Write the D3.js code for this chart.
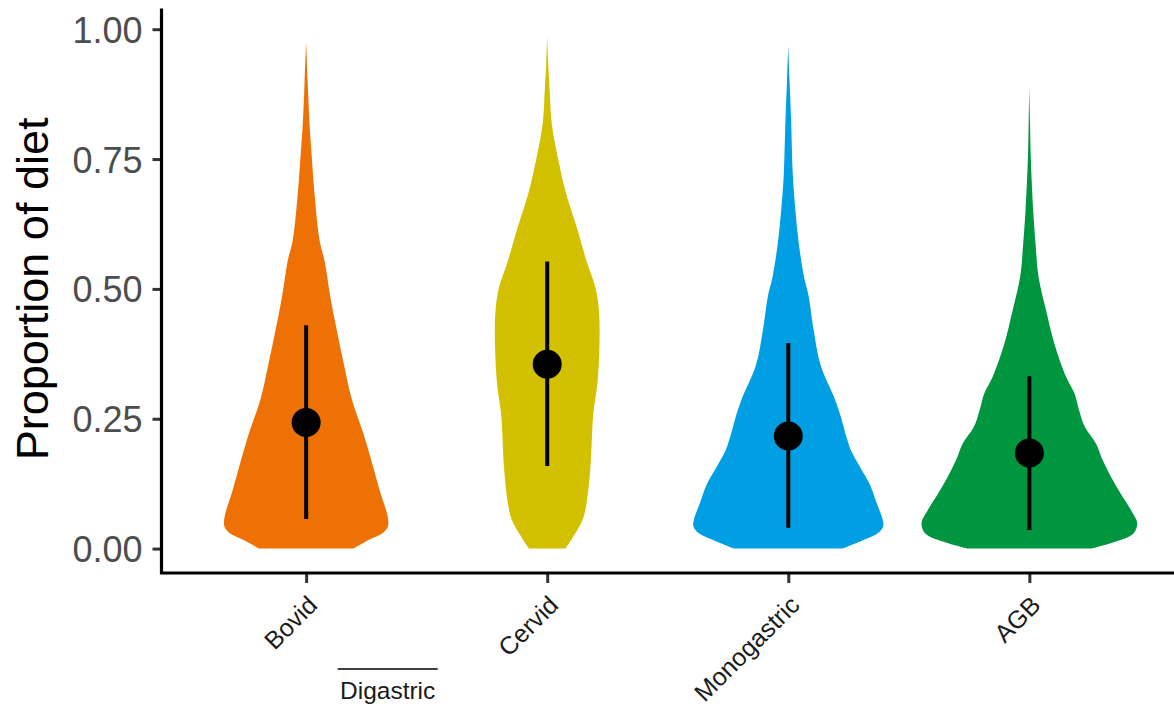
<!DOCTYPE html>
<html>
<head>
<meta charset="utf-8">
<script src="https://cdn.jsdelivr.net/npm/d3@7"></script>
<style>
  html, body { margin: 0; padding: 0; background: #fff; }
  svg { display: block; font-family: "Liberation Sans", Arial, Helvetica, sans-serif; }
</style>
</head>
<body>
<svg id="chart" width="1174" height="711"></svg>
<script>
// Diet groups along the x axis
const categories = ["Bovid", "Cervid", "Monogastric", "AGB"];
const fillColors = ["#ED7104", "#D3C000", "#009FE3", "#00953F"];

// Violin outlines: proportion-of-diet levels and relative density widths (1 = widest violin)
const bovidLevels   = [0, 0.016, 0.030, 0.043, 0.063, 0.109, 0.156, 0.222, 0.288, 0.354, 0.421, 0.487, 0.553, 0.593, 0.686, 0.760, 0.818, 0.900, 0.974];
const bovidDensity  = [0.436, 0.571, 0.706, 0.754, 0.750, 0.682, 0.619, 0.527, 0.420, 0.349, 0.282, 0.221, 0.171, 0.124, 0.076, 0.050, 0.031, 0.014, 0];

const cervidLevels  = [0, 0.030, 0.056, 0.089, 0.156, 0.222, 0.255, 0.321, 0.388, 0.454, 0.500, 0.553, 0.620, 0.686, 0.752, 0.818, 0.885, 0.940, 0.987];
const cervidDensity = [0.169, 0.261, 0.328, 0.364, 0.398, 0.414, 0.423, 0.464, 0.481, 0.478, 0.448, 0.364, 0.270, 0.171, 0.099, 0.042, 0.022, 0.008, 0];

const monoLevels    = [0, 0.016, 0.030, 0.043, 0.056, 0.089, 0.122, 0.156, 0.189, 0.222, 0.255, 0.288, 0.354, 0.421, 0.487, 0.520, 0.587, 0.653, 0.719, 0.818, 0.900, 0.968];
const monoDensity   = [0.500, 0.688, 0.828, 0.875, 0.870, 0.812, 0.755, 0.664, 0.578, 0.526, 0.483, 0.429, 0.297, 0.234, 0.187, 0.148, 0.097, 0.065, 0.042, 0.027, 0.012, 0];

const agbLevels     = [0, 0.013, 0.029, 0.049, 0.074, 0.106, 0.138, 0.170, 0.202, 0.234, 0.267, 0.299, 0.331, 0.395, 0.459, 0.523, 0.587, 0.652, 0.748, 0.820, 0.886];
const agbDensity    = [0.576, 0.791, 0.960, 0.994, 0.937, 0.841, 0.753, 0.676, 0.615, 0.512, 0.458, 0.415, 0.338, 0.230, 0.154, 0.085, 0.057, 0.035, 0.014, 0.006, 0];

// Point summaries: centre and interval ends
const centres    = [0.243, 0.355, 0.217, 0.184];
const lowerEnds  = [0.057, 0.159, 0.040, 0.036];
const upperEnds  = [0.430, 0.553, 0.396, 0.332];

const yTicks = [0, 0.25, 0.5, 0.75, 1];
const yTitle = "Proportion of diet";
const groupLabel = "Digastric";

const violins = [
  { levels: bovidLevels,  density: bovidDensity },
  { levels: cervidLevels, density: cervidDensity },
  { levels: monoLevels,   density: monoDensity },
  { levels: agbLevels,    density: agbDensity }
];

const svg = d3.select("#chart");
const panel = { left: 161.5, right: 1174, top: 10, bottom: 573 };

const x = d3.scalePoint().domain(categories).range([panel.left, panel.right]).padding(0.6);
const y = d3.scaleLinear().domain([-0.047, 1.037]).range([panel.bottom, panel.top]);
const halfWidth = d3.scaleLinear().domain([0, 1]).range([0, 0.45 * x.step()]);

// Violins
categories.forEach((cat, i) => {
  const v = violins[i];
  const pts = v.levels.map((lv, j) => ({ lv, d: v.density[j] }));
  const cx = x(cat);
  const area = d3.area()
    .y(p => y(p.lv))
    .x0(p => cx - halfWidth(p.d))
    .x1(p => cx + halfWidth(p.d))
    .curve(d3.curveCatmullRom.alpha(0.5));
  svg.append("path")
    .attr("d", area(pts))
    .attr("fill", fillColors[i])
    .attr("stroke", "none");
});

// Interval lines and centre points
const summary = svg.append("g");
categories.forEach((cat, i) => {
  summary.append("line")
    .attr("x1", x(cat)).attr("x2", x(cat))
    .attr("y1", y(lowerEnds[i])).attr("y2", y(upperEnds[i]))
    .attr("stroke", "#000").attr("stroke-width", 4);
  summary.append("circle")
    .attr("cx", x(cat)).attr("cy", y(centres[i]))
    .attr("r", 14.5).attr("fill", "#000");
});

// Y axis
const yAxis = svg.append("g")
  .attr("transform", `translate(${panel.left},0)`)
  .call(d3.axisLeft(y).tickValues(yTicks).tickFormat(d3.format(".2f")).tickSize(9).tickPadding(10));
yAxis.select(".domain").remove();
yAxis.selectAll(".tick line").attr("stroke", "#333").attr("stroke-width", 3);
yAxis.selectAll(".tick text").attr("fill", "#4D4D4D").attr("font-size", 36).attr("dy", "0.36em");

// X axis
const xAxis = svg.append("g")
  .attr("transform", `translate(0,${panel.bottom})`)
  .call(d3.axisBottom(x).tickSize(10).tickFormat(""));
xAxis.select(".domain").remove();
xAxis.selectAll(".tick line").attr("stroke", "#333").attr("stroke-width", 3);

// Rotated category labels
svg.append("g").selectAll("text")
  .data(categories)
  .join("text")
  .attr("transform", d => `translate(${x(d)},${panel.bottom + 21}) rotate(-45)`)
  .attr("text-anchor", "end")
  .attr("dy", "0.72em")
  .attr("font-size", 25)
  .attr("fill", "#1a1a1a")
  .text(d => d);

// Axis lines
svg.append("path")
  .attr("d", `M${panel.left},${panel.top}V${panel.bottom}H${panel.right}`)
  .attr("fill", "none").attr("stroke", "#000").attr("stroke-width", 3.2)
  .attr("stroke-linejoin", "miter").attr("stroke-linecap", "square");

// Y title
svg.append("text")
  .attr("transform", `translate(48,${(y(0) + y(1)) / 2}) rotate(-90)`)
  .attr("text-anchor", "middle")
  .attr("font-size", 45)
  .attr("fill", "#000")
  .text(yTitle);

// Group bracket under the first two categories
const gx = (x(categories[0]) + x(categories[1])) / 2 - 39;
svg.append("line")
  .attr("x1", gx - 50).attr("x2", gx + 50)
  .attr("y1", 669).attr("y2", 669)
  .attr("stroke", "#000").attr("stroke-width", 1.6);
svg.append("text")
  .attr("x", gx).attr("y", 699)
  .attr("text-anchor", "middle")
  .attr("font-size", 24.5)
  .attr("fill", "#1a1a1a")
  .text(groupLabel);
</script>
</body>
</html>
